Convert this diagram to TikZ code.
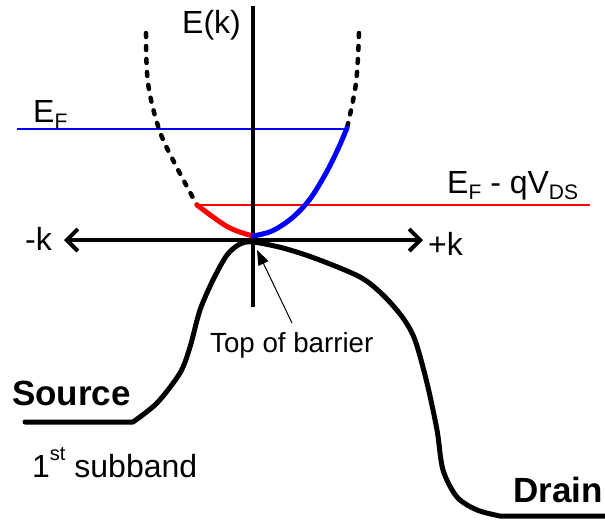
\documentclass[tikz,border=0pt]{standalone}
\usepackage{fontspec}
\setmainfont{Liberation Sans}
\usetikzlibrary{arrows.meta}
\newcommand\lowtxt[1]{\raisebox{-0.2em}{\fontsize{21}{21}\selectfont #1}}
\newcommand\hightxt[1]{\raisebox{0.53em}{\fontsize{20}{20}\selectfont #1}}
\definecolor{pureblue}{RGB}{0,0,255}
\definecolor{purered}{RGB}{255,0,0}
\begin{document}
\begin{tikzpicture}[x=1pt,y=-1pt,
  lbl/.style={inner sep=0pt, anchor=base west, font=\fontsize{32}{37}\selectfont},
  boldlbl/.style={inner sep=0pt, anchor=base west, font=\fontsize{35}{41}\selectfont\bfseries},
  smalllbl/.style={inner sep=0pt, anchor=base west, font=\fontsize{27.7}{32}\selectfont},
  axisline/.style={line width=4pt},
  barb/.style={line width=4pt, {Straight Barb[length=11pt,width=22pt,line width=4pt]}-{Straight Barb[length=11pt,width=22pt,line width=4pt]}},
  level/.style={line width=1.2pt},
  band/.style={line width=5pt, line cap=round, line join=round},
  dotted band/.style={line width=4.5pt, line cap=round, dash pattern=on 4pt off 9pt},
  pointer/.style={line width=1pt, -{Triangle[length=15pt,width=11pt]}}]
\useasboundingbox (0,0) rectangle (605,523);

% levels
\coordinate (efl) at (17,129);
\coordinate (efr) at (347,129);
\coordinate (eql) at (197,205);
\coordinate (eqr) at (590,205);
\draw[level, pureblue] (efl) -- (efr);
\draw[level, purered] (eql) -- (eqr);

% axes
\coordinate (vtop) at (253,6);
\coordinate (vbot) at (253,307);
\coordinate (kl) at (64,240);
\coordinate (kr) at (423,240);
\draw[axisline] (vtop) -- (vbot);
\draw[barb] (kl) -- (kr);

% dispersion parabola
\draw[dotted band, black] plot[smooth, tension=0.6] coordinates {(146,33) (148,83) (159,129) (174,162) (197,205)};
\draw[dotted band, black] plot[smooth, tension=0.6] coordinates {(359,33) (356,83) (347,128)};
\draw[band, purered] plot[smooth, tension=0.6] coordinates {(197,205) (228,227) (253,236)};
\draw[band, pureblue] plot[smooth, tension=0.55] coordinates {(253,236) (272,231) (292,218) (310,199) (326,173) (338,149) (347,128)};

% barrier profile
\draw[band, line cap=round] (25,422) -- (133,422)
  plot[smooth, tension=0.5] coordinates {(133,422) (157,403) (180,373) (190,347) (200,310) (213,280) (227,255) (240,244) (253,242) (283,248) (317,259) (360,277) (383,295) (403,318) (415,340) (427,383) (437,430) (443,470) (457,497) (477,510) (500,516)}
  -- (605,516);

% labels
\node[lbl] (ek) at (182,33) {E(k)};
\node[lbl] (ef) at (33,122) {E\lowtxt{F}};
\node[lbl] (mk) at (25,250) {-k};
\node[lbl] (pk) at (428,255) {+k};
\node[lbl] (efq) at (447,193) {E\lowtxt{F} - qV\lowtxt{DS}};
\node[smalllbl] (tob) at (210,352) {Top of barrier};
\node[boldlbl] (src) at (12,405) {Source};
\node[boldlbl] (drn) at (513,502) {Drain};
\node[lbl] (sub) at (32,477) {1\hightxt{st} subband};

% pointer
\coordinate (tobstart) at (292,323);
\coordinate (tobtip) at (257,250);
\draw[pointer] (tobstart) -- (tobtip);
\end{tikzpicture}
\end{document}
